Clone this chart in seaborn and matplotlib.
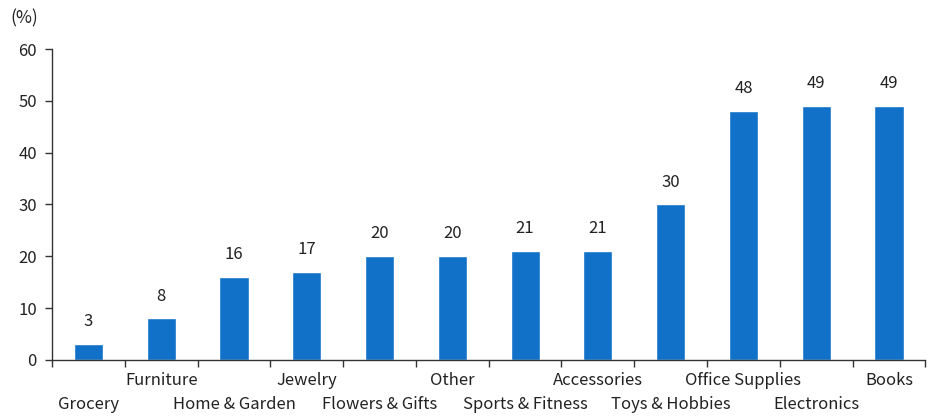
import numpy as np
import pandas as pd
import seaborn as sns
import matplotlib.pyplot as plt
import matplotlib.transforms as mtransforms

sns.set_theme(style="white")
plt.rcParams['font.family'] = ['Noto Sans CJK KR', 'DejaVu Sans']

categories = ["Grocery", "Furniture", "Home & Garden", "Jewelry", "Flowers & Gifts",
              "Other", "Sports & Fitness", "Accessories", "Toys & Hobbies",
              "Office Supplies", "Electronics", "Books"]
values = [3, 8, 16, 17, 20, 20, 21, 21, 30, 48, 49, 49]
bar_color = "#1170C8"

df = pd.DataFrame({"category": categories, "value": values})

fig = plt.figure(figsize=(9.3, 4.16), dpi=100)
ax = fig.add_axes([0.056, 0.135, 0.939, 0.747])
sns.barplot(data=df, x="category", y="value", color=bar_color, width=0.4,
            saturation=1, ax=ax)

ax.set_ylim(0, 60)
ax.set_xlim(-0.5, len(categories) - 0.5)
ax.set_yticks(range(0, 61, 10))
ax.tick_params(axis='y', labelsize=12, length=5, width=1, color='#333333',
               direction='out', left=True, pad=6, labelcolor='#222222')

# category boundaries as ticks
ax.set_xticks(np.arange(-0.5, len(categories), 1))
ax.set_xticklabels([])
ax.tick_params(axis='x', which='major', length=5, width=1, color='#333333',
               direction='out', bottom=True)

# names in two staggered rows
trans = mtransforms.blended_transform_factory(ax.transData, ax.transAxes)
for i, c in enumerate(categories):
    y = -0.145 if i % 2 == 0 else -0.068
    ax.text(i, y, c, transform=trans, ha='center', va='center',
            fontsize=12, color='#222222')

for side in ['top', 'right']:
    ax.spines[side].set_visible(False)
for side in ['left', 'bottom']:
    ax.spines[side].set_color('#333333')
    ax.spines[side].set_linewidth(1)

ax.bar_label(ax.containers[0], fmt='%d', padding=10, fontsize=12, color='#222222')
ax.set_xlabel("")
ax.set_ylabel("")
fig.text(0.011, 0.955, "(%)", fontsize=12.5, color='#222222', va='center')

fig.savefig("out.png", dpi=100)
